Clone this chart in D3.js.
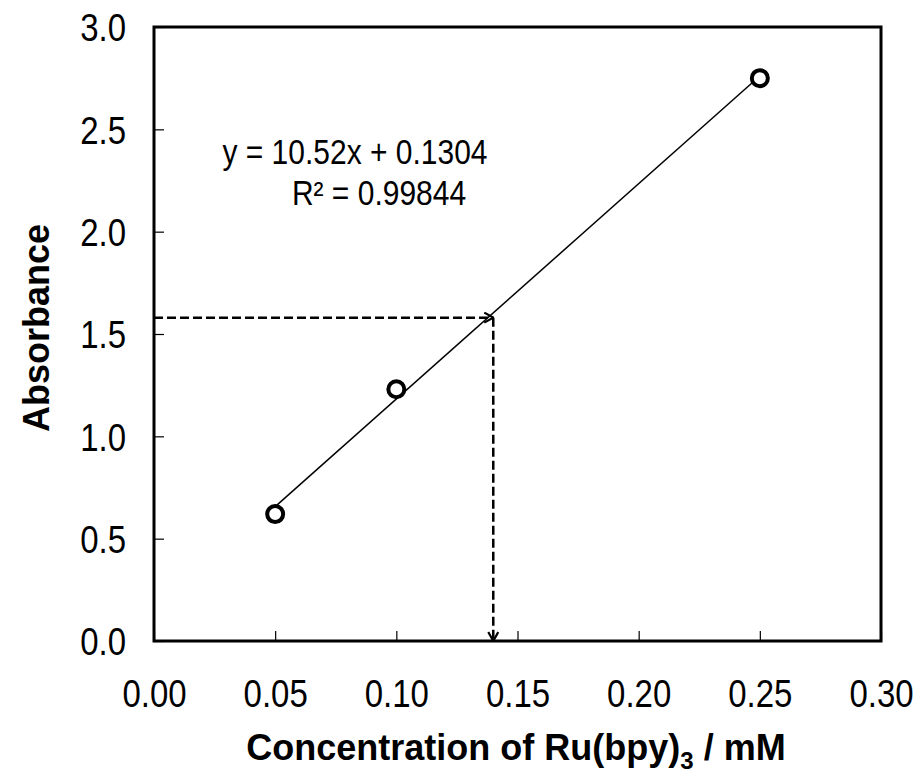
<!DOCTYPE html>
<html><head><meta charset="utf-8">
<script src="https://cdn.jsdelivr.net/npm/d3@7"></script>
<style>body{margin:0;background:#fff;} text{font-family:"Liberation Sans",Arial,sans-serif;}</style>
</head><body>
<svg id="c" width="916" height="778"></svg>
<script>
const concentrations = [0.05, 0.10, 0.25];
const absorbances = [0.62, 1.23, 2.75];
const xTicks = [0.00, 0.05, 0.10, 0.15, 0.20, 0.25, 0.30];
const yTicks = [0.0, 0.5, 1.0, 1.5, 2.0, 2.5, 3.0];
const slope = 10.52, intercept = 0.1304;
const equationLines = ["y = 10.52x + 0.1304", "R² = 0.99844"];
const unknownPoint = [0.14, 1.58];

const svg = d3.select("#c");
const L = 154, R = 881, T = 27, B = 641;
const SY = 1.15;
const x = d3.scaleLinear().domain([0, 0.30]).range([L, R]);
const y = d3.scaleLinear().domain([0, 3.0]).range([B, T]);

const defs = svg.append("defs");
defs.append("marker").attr("id","arr").attr("viewBox","0 0 12 12").attr("refX",11).attr("refY",6)
  .attr("markerWidth",12).attr("markerHeight",12).attr("markerUnits","userSpaceOnUse").attr("orient","auto")
  .append("path").attr("d","M2,1 L11,6 L2,11").attr("fill","none").attr("stroke","#000").attr("stroke-width",2.2);

const xa = svg.append("g").attr("transform",`translate(0,${B})`)
  .call(d3.axisBottom(x).tickValues(xTicks).tickSize(0).tickPadding(0).tickFormat(d3.format(".2f")));
xa.select(".domain").remove();
xa.selectAll(".tick").append("line").attr("y1",0).attr("y2",-10).attr("stroke","#000").attr("stroke-width",1.2);
xa.selectAll("text").attr("y",0).attr("dy",0).attr("transform",`translate(0,66) scale(1,${SY})`)
  .attr("font-size",33).attr("fill","#000");

const ya = svg.append("g").attr("transform",`translate(${L},0)`)
  .call(d3.axisLeft(y).tickValues(yTicks).tickSize(0).tickPadding(0).tickFormat(d3.format(".1f")));
ya.select(".domain").remove();
ya.selectAll(".tick").append("line").attr("x1",0).attr("x2",10).attr("stroke","#000").attr("stroke-width",1.2);
ya.selectAll("text").attr("x",-28).attr("dy","0.36em").attr("transform",`scale(1,${SY})`)
  .attr("font-size",33).attr("fill","#000");

svg.append("rect").attr("x",L).attr("y",T).attr("width",R-L).attr("height",B-T)
  .attr("fill","none").attr("stroke","#000").attr("stroke-width",3);

const xmin = d3.min(concentrations), xmax = d3.max(concentrations);
svg.append("line").attr("x1",x(xmin)).attr("y1",y(slope*xmin+intercept))
  .attr("x2",x(xmax)).attr("y2",y(slope*xmax+intercept)).attr("stroke","#000").attr("stroke-width",1.5);

svg.append("line").attr("x1",x(0)).attr("y1",y(unknownPoint[1])).attr("x2",x(unknownPoint[0])).attr("y2",y(unknownPoint[1]))
  .attr("stroke","#000").attr("stroke-width",2.5).attr("stroke-dasharray","9,4").attr("marker-end","url(#arr)");
svg.append("line").attr("x1",x(unknownPoint[0])).attr("y1",y(unknownPoint[1])).attr("x2",x(unknownPoint[0])).attr("y2",y(0))
  .attr("stroke","#000").attr("stroke-width",2.5).attr("stroke-dasharray","9,4").attr("marker-end","url(#arr)");

svg.selectAll("circle.p").data(concentrations.map((c,i)=>[c,absorbances[i]])).enter().append("circle")
  .attr("cx",d=>x(d[0])).attr("cy",d=>y(d[1])).attr("r",8).attr("fill","#fff").attr("stroke","#000").attr("stroke-width",4);

svg.append("text").attr("transform",`translate(355,164) scale(1,${SY})`).attr("text-anchor","middle").attr("font-size",30).text(equationLines[0]);
svg.append("text").attr("transform",`translate(379,205) scale(1,${SY})`).attr("text-anchor","middle").attr("font-size",30).text(equationLines[1]);

svg.append("text").attr("transform","translate(49,328) rotate(-90)").attr("text-anchor","middle")
  .attr("font-size",36).attr("font-weight","bold").text("Absorbance");
const xt = svg.append("text").attr("x",516).attr("y",760).attr("text-anchor","middle").attr("font-size",36).attr("font-weight","bold");
xt.append("tspan").text("Concentration of Ru(bpy)");
xt.append("tspan").attr("font-size",24).attr("dy",9).text("3");
xt.append("tspan").attr("dy",-9).text(" / mM");
</script>
</body></html>
